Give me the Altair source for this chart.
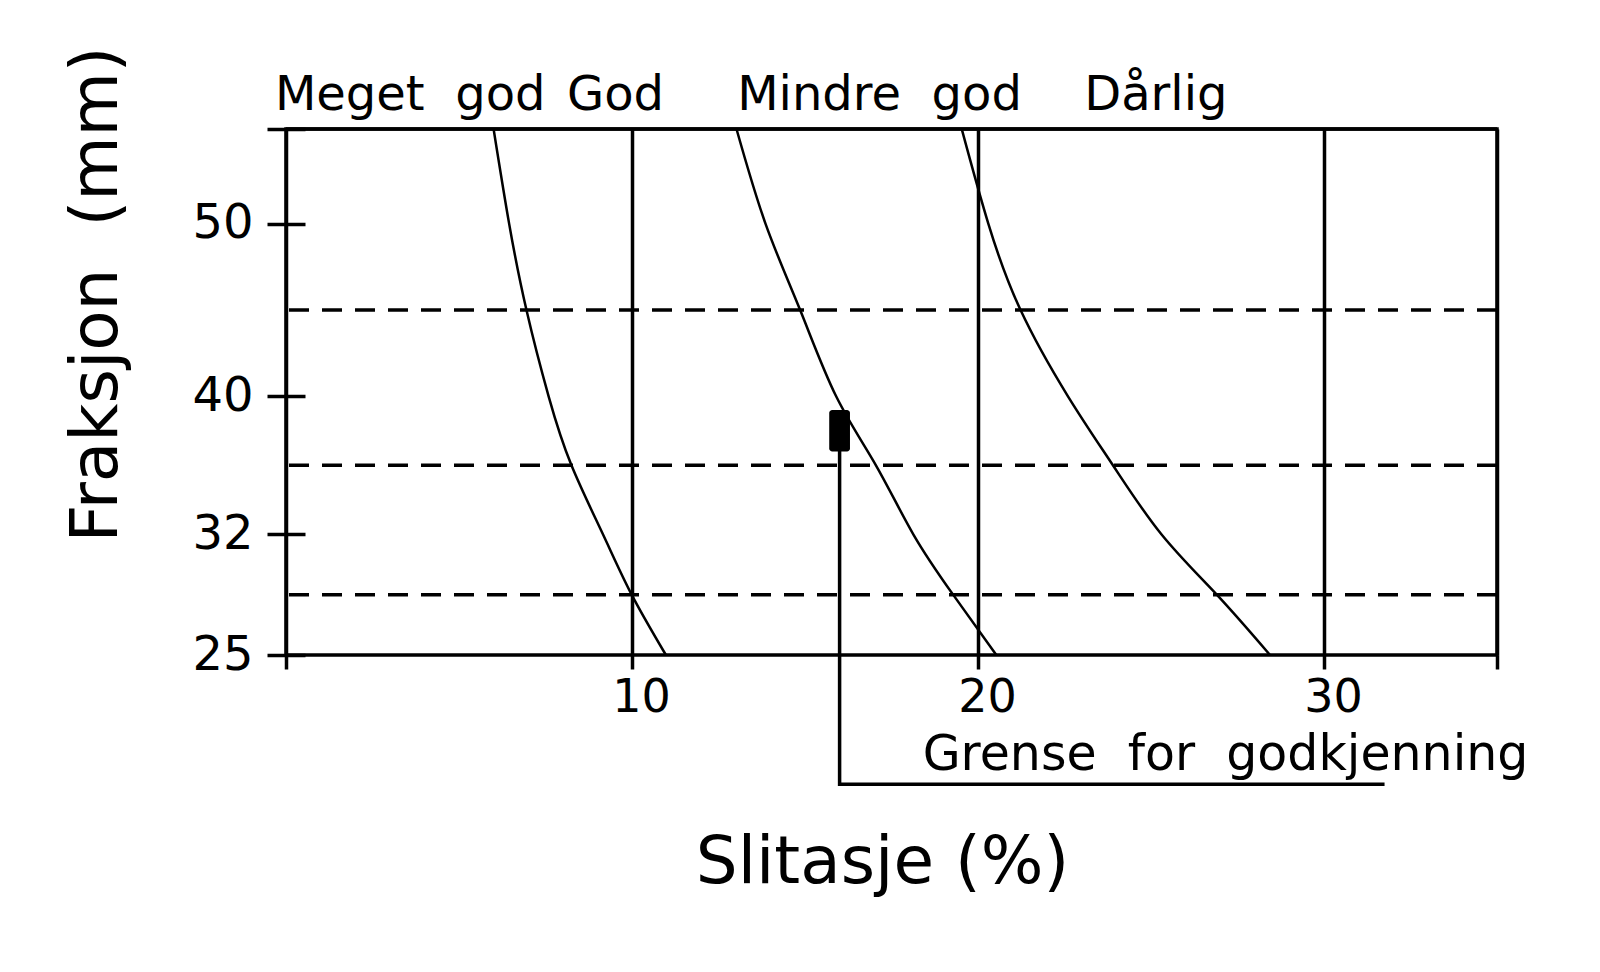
import altair as alt
import pandas as pd

# ---- data ----
fraksjon = [55.5, 50, 45, 40, 36, 32, 28.5, 25]          # Fraksjon (mm)
slit_meget_god_god = [6.0, 6.45, 6.95, 7.59, 8.25, 9.16, 9.99, 10.98]
slit_god_mindre = [13.02, 13.86, 14.86, 15.9, 17.05, 18.13, 19.28, 20.53]
slit_mindre_darlig = [19.53, 20.3, 21.23, 22.6, 23.9, 25.3, 26.9, 28.44]

x_ticks = [0, 10, 20, 30, 35]
y_ticks = [25, 32, 40, 50, 55.5]
fraction_mids = [28.5, 36, 45]

class_labels = ["Meget\u00a0 god", "God", "Mindre\u00a0 god", "Dårlig"]
class_label_x = [-0.32, 8.12, 13.04, 23.07]
class_label_y = 56.6

grense_text = "Grense\u00a0 for\u00a0 godkjenning"
grense_x = [16, 16, 31.75]
grense_y = [39.2, 17.5, 17.5]
grense_text_pos = (18.4, 18.33)
arrow_x = (15.7, 16.3)
arrow_y = (36.8, 39.2)

FONT = "DejaVu Sans"
W, H = 1211, 526
LW = 3.5

xs = alt.Scale(domain=[0, 35], nice=False, zero=False)
ys = alt.Scale(domain=[25, 55.5], nice=False, zero=False)

x_axis = alt.Axis(
    values=x_ticks, grid=True, gridColor="black", gridWidth=LW, gridOpacity=1,
    domain=False, ticks=True, tickSize=14, tickWidth=LW, tickColor="black",
    labelExpr="(datum.value == 0 || datum.value == 35) ? '' : datum.label",
    labelFont=FONT, labelFontSize=46, labelColor="black", labelPadding=6,
    labelOffset=9, labelBaseline="top",
    title="Slitasje (%)", titleFont=FONT, titleFontSize=66, titleFontWeight="normal",
    titleColor="black", titleX=596, titleY=227, titleBaseline="alphabetic",
    titleAlign="center",
)
y_axis = alt.Axis(
    values=y_ticks, grid=False, domain=False, ticks=True, tickSize=38,
    tickWidth=LW, tickColor="black", offset=-19,
    labelExpr="datum.value > 55 ? '' : datum.label",
    labelFont=FONT, labelFontSize=48, labelColor="black", labelPadding=14,
    title="Fraksjon\u00a0 (mm)", titleFont=FONT, titleFontSize=66, titleFontWeight="normal",
    titleColor="black", titleAngle=270, titleX=-189, titleY=165,
    titleBaseline="alphabetic", titleAlign="center",
)

def X(f="slitasje"):
    return alt.X(f + ":Q", scale=xs, axis=x_axis)

def Y(f="fraksjon"):
    return alt.Y(f + ":Q", scale=ys, axis=y_axis)

curves = pd.DataFrame({
    "slitasje": slit_meget_god_god + slit_god_mindre + slit_mindre_darlig,
    "fraksjon": fraksjon * 3,
    "grense": ["Meget god / God"] * 8 + ["God / Mindre god"] * 8 + ["Mindre god / Dårlig"] * 8,
})

curve_layer = alt.Chart(curves).mark_line(
    color="black", strokeWidth=2.5, interpolate="natural"
).encode(x=X(), y=Y(), detail="grense:N", order=alt.Order("slitasje:Q"))

dash_layer = alt.Chart(pd.DataFrame({"fraksjon": fraction_mids})).mark_rule(
    color="black", strokeWidth=LW, strokeDash=[20, 13]
).encode(y=Y())

top_line = alt.Chart(pd.DataFrame({"fraksjon": [55.5]})).mark_rule(
    color="black", strokeWidth=LW
).encode(y=Y())

labels_df = pd.DataFrame({
    "slitasje": class_label_x,
    "fraksjon": [class_label_y] * 4,
    "txt": class_labels,
})
label_layer = alt.Chart(labels_df).mark_text(
    align="left", baseline="alphabetic", font=FONT, fontSize=48, color="black"
).encode(x=X(), y=Y(), text="txt:N")

grense_df = pd.DataFrame({"slitasje": grense_x, "fraksjon": grense_y, "i": [0, 1, 2]})
grense_line = alt.Chart(grense_df).mark_line(color="black", strokeWidth=LW).encode(
    x=X(), y=Y(), order=alt.Order("i:Q")
)

arrow_df = pd.DataFrame({"x1": [arrow_x[0]], "x2": [arrow_x[1]],
                         "y1": [arrow_y[0]], "y2": [arrow_y[1]]})
arrow = alt.Chart(arrow_df).mark_rect(color="black", cornerRadius=3).encode(
    x=X("x1"), x2="x2:Q", y=Y("y1"), y2="y2:Q"
)

grense_lbl = alt.Chart(pd.DataFrame({
    "slitasje": [grense_text_pos[0]], "fraksjon": [grense_text_pos[1]], "txt": [grense_text]
})).mark_text(
    align="left", baseline="alphabetic", font=FONT, fontSize=49, color="black"
).encode(x=X(), y=Y(), text="txt:N")

chart = alt.layer(
    dash_layer, top_line, curve_layer, grense_line, arrow, label_layer, grense_lbl
).properties(
    width=W, height=H,
    autosize=alt.AutoSizeParams(type="none"),
    padding={"left": 278, "top": 121, "right": 90, "bottom": 300},
    background="white",
).configure_view(stroke="black", strokeWidth=LW)

chart.save("out.html", embed_options={"renderer": "svg", "actions": False})
